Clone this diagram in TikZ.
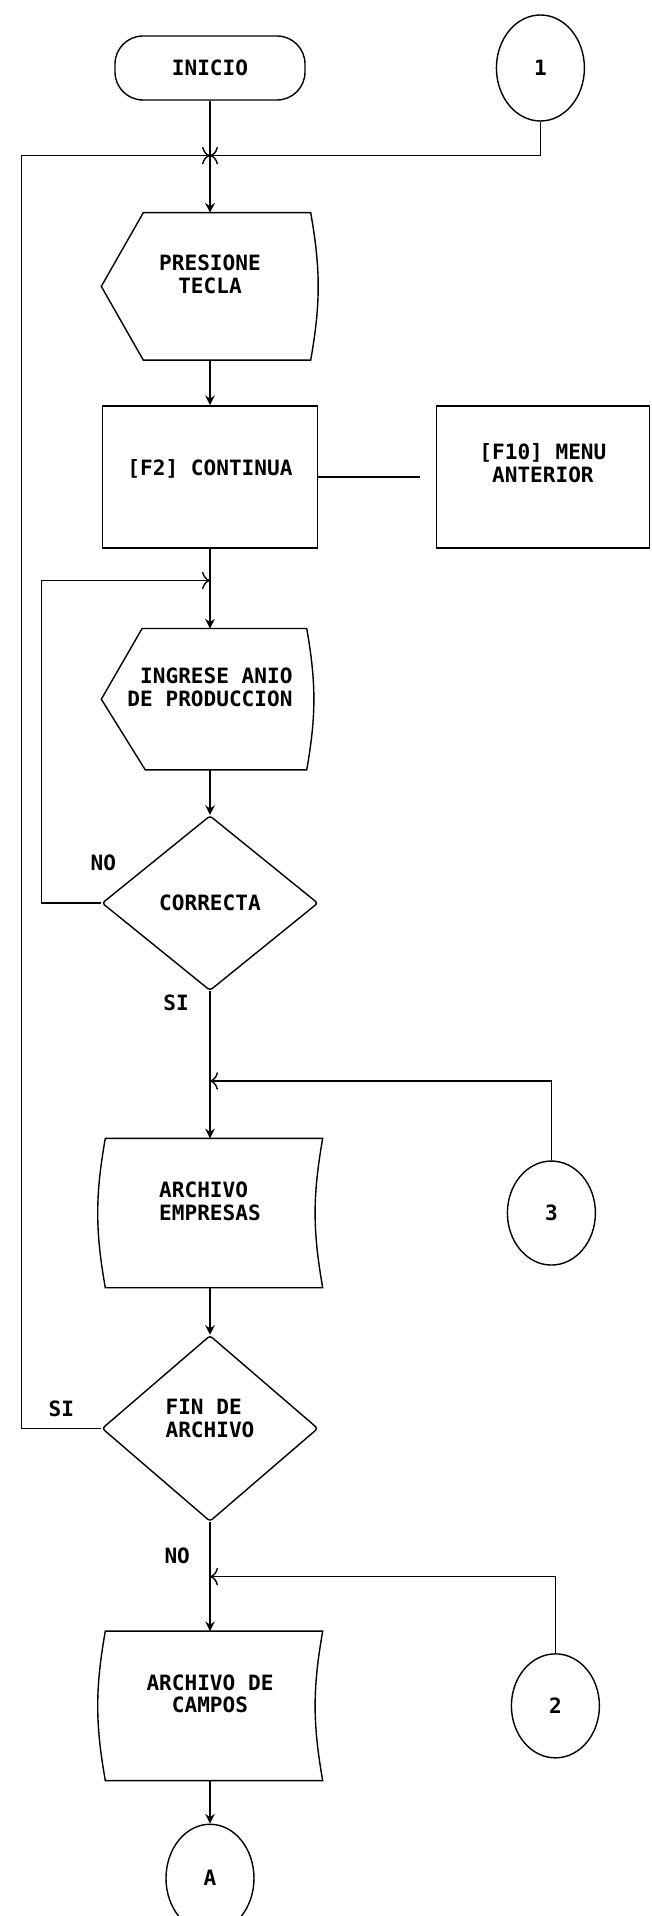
\documentclass[tikz,border=0pt]{standalone}
\usepackage{fontspec}
\setmonofont{DejaVu Sans Mono}
\usetikzlibrary{arrows.meta, positioning, calc, shapes.geometric}

\begin{document}
\begin{tikzpicture}[
    line width=1pt,
    >={Stealth[length=2.4mm, width=2.4mm]},
    every node/.style={font=\ttfamily\bfseries\fontsize{15}{16}\selectfont},
    term/.style={
        rectangle,
        rounded corners=0.7cm,
        draw,
        minimum width=4.75cm,
        minimum height=1.6cm
    },
    proc/.style={
        rectangle,
        draw,
        minimum width=5.375cm,
        minimum height=3.55cm,
        align=center,
        text depth=0.45cm
    },
    disp/.style={
        rectangle,
        minimum width=5.4cm,
        minimum height=3.6cm,
        align=center,
        text depth=0.6cm
    },
    dec/.style={
        diamond,
        draw,
        rounded corners=2pt,
        minimum width=5.4cm,
        align=center
    },
    store/.style={
        rectangle,
        minimum width=5.6cm,
        minimum height=3.7cm,
        align=center,
        text depth=0.6cm
    },
    conn/.style={
        ellipse,
        draw,
        minimum width=2.2cm,
        minimum height=2.6cm
    },
    flow/.style={->, line width=1.4pt},
    merge/.style={-{To[length=2mm, width=4.4mm]}},
    lbl/.style={inner sep=1pt}
]

\useasboundingbox (0,0) rectangle (16.275,-47.9);

% Main column
\node[term] (inicio) at (5.25,-1.7) {INICIO};

\node[disp, below=2.8cm of inicio, minimum height=3.65cm] (tecla) {PRESIONE\\TECLA};

\node[proc, below=1.125cm of tecla] (f2) {[F2] CONTINUA};

\node[disp, below=2cm of f2, minimum height=3.5cm, align=right] (anio) {INGRESE ANIO\\DE PRODUCCION};

\node[dec, below=1.125cm of anio, minimum height=4.375cm] (correcta) {CORRECTA};

\node[store, below=3.675cm of correcta, align=left] (empresas) {ARCHIVO\\EMPRESAS};

\node[dec, below=1.175cm of empresas, minimum height=4.65cm, align=left, text depth=0.5cm] (fin) {FIN DE\\ARCHIVO};

\node[store, below=2.725cm of fin] (campos) {ARCHIVO DE\\CAMPOS};

\node[conn, below=1.075cm of campos, minimum height=2.7cm] (a) {A};

% Right side: connectors and menu
\node[conn, right=4.75cm of inicio, minimum height=2.65cm] (c1) {1};
\node[proc, right=2.9375cm of f2, minimum width=5.325cm, text depth=0.7cm] (menu) {[F10] MENU\\ANTERIOR};
\node[conn, right=4.6cm of empresas] (c3) {3};
\node[conn, right=4.7cm of campos] (c2) {2};

% Outlines of display and stored data symbols
\draw ($(tecla.north west)+(1.05,0)$) -- ($(tecla.north east)+(-0.2,0)$) to[bend left=10] ($(tecla.south east)+(-0.2,0)$) -- ($(tecla.south west)+(1.05,0)$) -- (tecla.west) -- cycle;
\draw ($(anio.north west)+(1.02,0)$) -- ($(anio.north east)+(-0.3,0)$) to[bend left=10] ($(anio.south east)+(-0.3,0)$) -- ($(anio.south west)+(1.1,0)$) -- (anio.west) -- cycle;
\draw ($(empresas.north west)+(0.2,0)$) -- (empresas.north east) to[bend right=10] (empresas.south east) -- ($(empresas.south west)+(0.2,0)$) to[bend left=10] ($(empresas.north west)+(0.2,0)$) -- cycle;
\draw ($(campos.north west)+(0.2,0)$) -- (campos.north east) to[bend right=10] (campos.south east) -- ($(campos.south west)+(0.2,0)$) to[bend left=10] ($(campos.north west)+(0.2,0)$) -- cycle;

% Junction points on the main line
\coordinate (j1) at ($(inicio.south)!0.49!(tecla.north)$);
\coordinate (j2) at ($(f2.south)!0.4!(anio.north)$);
\coordinate (j3) at ($(correcta.south)!0.61!(empresas.north)$);
\coordinate (j4) at ($(fin.south)!0.5!(campos.north)$);

% Main arrows
\draw[flow] (inicio) -- (tecla);
\draw[flow] (tecla) -- (f2);
\draw[flow] (f2) -- (anio);
\draw[flow] (anio) -- (correcta);
\draw[flow] (correcta) -- (empresas);
\draw[flow] (empresas) -- (fin);
\draw[flow] (fin) -- (campos);
\draw[flow] (campos) -- (a);

% Returns and connectors
\draw[merge] (c1.south) |- (j1);
\draw[merge] (fin.west) -- ++(-2.0,0) |- (j1);
\draw[merge] (correcta.west) -- ++(-1.5,0) |- (j2);
\draw[merge] (c3.north) |- (j3);
\draw[merge] (c2.north) |- (j4);
\draw (f2.east) -- ($(menu.west |- f2.east)+(-0.4,0)$);

% Branch labels
\node[lbl] (no1) at ($(correcta.west)+(0.05,1.0)$) {NO};
\node[lbl] (si1) at ($(correcta.south)+(-0.85,-0.28)$) {SI};
\node[lbl] (si2) at ($(fin.west)+(-1.0,0.48)$) {SI};
\node[lbl] (no2) at ($(fin.south)+(-0.82,-0.85)$) {NO};

\end{tikzpicture}
\end{document}
